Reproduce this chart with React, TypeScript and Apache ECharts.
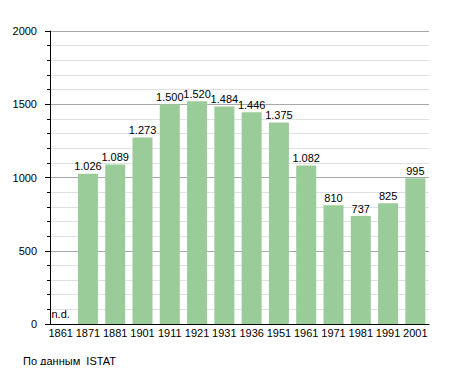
import React, { useEffect, useRef } from "react";
import * as echarts from "echarts";

const categories = ["1861", "1871", "1881", "1901", "1911", "1921", "1931", "1936", "1951", "1961", "1971", "1981", "1991", "2001"];
const population: (number | null)[] = [null, 1026, 1089, 1273, 1500, 1520, 1484, 1446, 1375, 1082, 810, 737, 825, 995];
const yTicks = { min: 0, max: 2000, interval: 500 };
const sourceNote = "По данным  ISTAT";
const missingLabel = "n.d.";

const FONT = "'Liberation Sans', Arial, sans-serif";

function fmt(v: number): string {
  return String(v).replace(/\B(?=(\d{3})+(?!\d))/g, ".");
}

export default function App() {
  const ref = useRef<HTMLDivElement>(null);
  useEffect(() => {
    if (!ref.current) return;
    const chart = echarts.init(ref.current, undefined, { renderer: "svg" });
    const data = population.map((v) =>
      v === null
        ? {
            value: 0,
            label: {
              show: true,
              position: "top",
              distance: 5,
              formatter: missingLabel,
            },
          }
        : { value: v }
    );
    chart.setOption({
      animation: false,
      textStyle: { fontFamily: FONT },
      title: {
        text: sourceNote,
        left: 18,
        top: 350,
        textStyle: { fontSize: 11, fontWeight: "normal", color: "#000", fontFamily: FONT },
      },
      grid: { left: 47, right: 26, top: 31, bottom: 49, containLabel: false },
      xAxis: {
        type: "category",
        data: categories,
        axisLine: { lineStyle: { color: "#000", width: 1 } },
        axisTick: { show: false },
        axisLabel: { color: "#000", fontSize: 11, margin: 3, fontFamily: FONT, interval: 0 },
        splitLine: { show: false },
      },
      yAxis: {
        type: "value",
        min: yTicks.min,
        max: yTicks.max,
        interval: yTicks.interval,
        offset: -3,
        axisLine: { show: true, lineStyle: { color: "#000", width: 1 } },
        axisTick: { show: true, length: 5, lineStyle: { color: "#000" } },
        minorTick: { show: true, splitNumber: 5, length: 3, lineStyle: { color: "#000" } },
        axisLabel: {
          color: "#000",
          fontSize: 11,
          margin: 13,
          fontFamily: FONT,
          formatter: (v: number) => String(v),
        },
        splitLine: { show: true, lineStyle: { color: "#a8a8a8", width: 1 } },
        minorSplitLine: { show: true, lineStyle: { color: "#e0e0e0", width: 1 } },
      },
      series: [
        {
          type: "bar",
          data,
          barWidth: 20,
          itemStyle: { color: "rgb(153,204,153)" },
          label: {
            show: true,
            position: "top",
            distance: 2,
            color: "#000",
            fontSize: 11,
            fontFamily: FONT,
            formatter: (p: any) => (p.value === 0 ? missingLabel : fmt(p.value)),
          },
        },
      ],
    });
    return () => chart.dispose();
  }, []);
  return <div ref={ref} style={{ width: 455, height: 373, margin: -8 }} />;
}
